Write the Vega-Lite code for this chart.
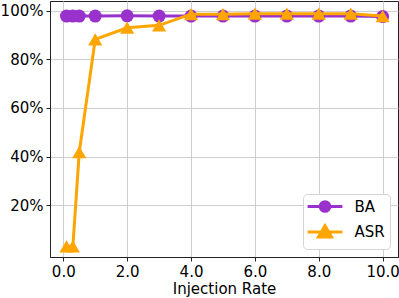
{
  "$schema": "https://vega.github.io/schema/vega-lite/v6.json",
  "width": 348,
  "height": 256,
  "autosize": {"type": "none"},
  "padding": {"left": 50, "top": 1, "right": 1, "bottom": 41},
  "config": {
    "font": "DejaVu Sans",
    "view": {"stroke": "#222", "strokeWidth": 1},
    "axis": {
      "domainColor": "#222",
      "tickColor": "#222",
      "labelColor": "#000",
      "titleColor": "#000",
      "labelFontSize": 15,
      "titleFontSize": 15,
      "titleFontWeight": "normal",
      "gridColor": "#cfcfcf",
      "gridWidth": 1,
      "tickSize": 4,
      "labelPadding": 3
    }
  },
  "data": {
    "values": [
      {"rate": 0.1, "series": "BA", "value": 97.8},
      {"rate": 0.3, "series": "BA", "value": 97.8},
      {"rate": 0.5, "series": "BA", "value": 97.8},
      {"rate": 1, "series": "BA", "value": 97.8},
      {"rate": 2, "series": "BA", "value": 97.9},
      {"rate": 3, "series": "BA", "value": 97.8},
      {"rate": 4, "series": "BA", "value": 97.8},
      {"rate": 5, "series": "BA", "value": 97.8},
      {"rate": 6, "series": "BA", "value": 97.8},
      {"rate": 7, "series": "BA", "value": 97.8},
      {"rate": 8, "series": "BA", "value": 97.8},
      {"rate": 9, "series": "BA", "value": 97.8},
      {"rate": 10, "series": "BA", "value": 97.6},
      {"rate": 0.1, "series": "ASR", "value": 3.1},
      {"rate": 0.3, "series": "ASR", "value": 3.1},
      {"rate": 0.5, "series": "ASR", "value": 41.8},
      {"rate": 1, "series": "ASR", "value": 88.2},
      {"rate": 2, "series": "ASR", "value": 93.0},
      {"rate": 3, "series": "ASR", "value": 94.0},
      {"rate": 4, "series": "ASR", "value": 98.6},
      {"rate": 5, "series": "ASR", "value": 98.6},
      {"rate": 6, "series": "ASR", "value": 98.8},
      {"rate": 7, "series": "ASR", "value": 98.8},
      {"rate": 8, "series": "ASR", "value": 98.8},
      {"rate": 9, "series": "ASR", "value": 98.8},
      {"rate": 10, "series": "ASR", "value": 97.8}
    ]
  },
  "encoding": {
    "x": {
      "field": "rate",
      "type": "quantitative",
      "scale": {"domain": [-0.416, 10.48], "nice": false, "zero": false},
      "axis": {"values": [0, 2, 4, 6, 8, 10], "format": ".1f", "title": "Injection Rate", "titlePadding": 2}
    },
    "y": {
      "field": "value",
      "type": "quantitative",
      "scale": {"domain": [-1.3, 104], "nice": false, "zero": false},
      "axis": {"values": [20, 40, 60, 80, 100], "labelExpr": "datum.value + '%'", "title": null}
    },
    "color": {
      "field": "series",
      "type": "nominal",
      "scale": {"domain": ["BA", "ASR"], "range": ["#9932CC", "#FFA500"]},
      "legend": {
        "title": null,
        "orient": "bottom-right",
        "offset": 8,
        "padding": 5,
        "fillColor": "white",
        "strokeColor": "#d5d5d5",
        "cornerRadius": 4,
        "labelFontSize": 15,
        "labelColor": "#000",
        "symbolSize": 144,
        "symbolOffset": 9.5,
        "labelOffset": 22,
        "rowPadding": 1.5,
        "symbolStrokeWidth": 3,
        "encode": {
          "symbols": {
            "update": {
              "shape": {"signal": "datum.value === 'BA' ? 'M-2.9,0H2.9M0.8,0A0.8,0.8,0,1,1,-0.8,0A0.8,0.8,0,1,1,0.8,0Z' : 'M-2.9,0H2.9M0,-1.05L1.1,0.85L-1.1,0.85Z'"},
              "size": {"value": 144},
              "fill": {"signal": "scale('color', datum.value)"},
              "stroke": {"signal": "scale('color', datum.value)"},
              "strokeWidth": {"value": 3},
              "opacity": {"value": 1}
            }
          }
        }
      }
    }
  },
  "layer": [
    {"transform": [{"filter": "datum.series === 'BA'"}], "mark": {"type": "line", "strokeWidth": 3}},
    {"transform": [{"filter": "datum.series === 'BA'"}], "mark": {"type": "point", "shape": "circle", "filled": true, "size": 169, "opacity": 1}},
    {"transform": [{"filter": "datum.series === 'ASR'"}], "mark": {"type": "line", "strokeWidth": 3}},
    {"transform": [{"filter": "datum.series === 'ASR'"}], "mark": {"type": "point", "shape": "triangle-up", "filled": true, "size": 200, "opacity": 1}}
  ]
}
